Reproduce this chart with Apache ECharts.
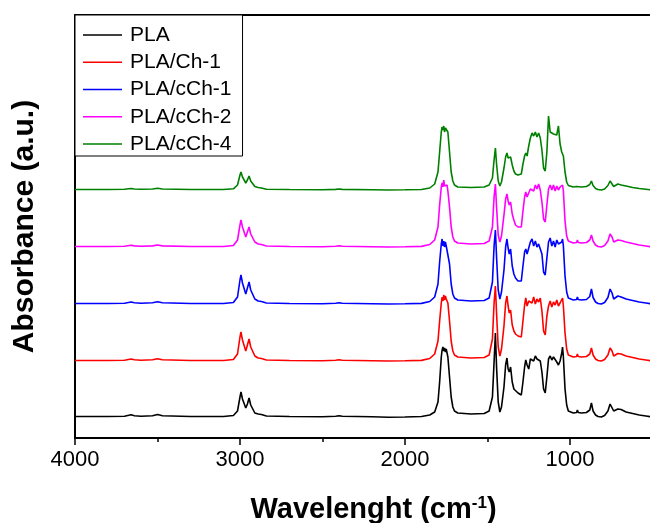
<!DOCTYPE html>
<html>
<head>
<meta charset="utf-8">
<script src="https://cdn.jsdelivr.net/npm/echarts@6/dist/echarts.min.js"></script>
<style>
  html, body { margin: 0; padding: 0; background: #fff; }
  #chart { width: 650px; height: 523px; }
</style>
</head>
<body>
<div id="chart"></div>
<script>
// FTIR spectra, stacked with a vertical offset per sample

var seriesNames = ['PLA', 'PLA/Ch-1', 'PLA/cCh-1', 'PLA/cCh-2', 'PLA/cCh-4'];
var seriesColors = ['#000000', '#ff0000', '#0000ff', '#ff00ff', '#008000'];
var baselineOffsets = [21, 77, 134, 191, 248];

var majorTicks = [1000, 2000, 3000, 4000];
var minorTicks = [1500, 2500, 3500];

// wavenumber (cm-1), descending
var wavenumbers = [
  4000, 3800, 3700, 3660, 3640, 3600, 3530, 3500, 3470, 3300,
  3100, 3040, 3015, 3000, 2994, 2985, 2965, 2955, 2945, 2935, 2910, 2890, 2880, 2870, 2840,
  2700, 2500, 2420, 2400, 2380, 2200, 2100, 2000, 1900, 1850,
  1820, 1800, 1790, 1780, 1775, 1770, 1765, 1760, 1755, 1750, 1745, 1740, 1730, 1720, 1710, 1700, 1680,
  1600, 1520, 1490, 1470, 1460, 1452, 1445, 1435, 1425, 1415, 1400,
  1390, 1382, 1375, 1368, 1360, 1350, 1340, 1330, 1315, 1305, 1295, 1285, 1275, 1268, 1260, 1250, 1240,
  1230, 1220, 1210, 1200, 1190, 1180, 1170, 1160, 1150, 1140, 1130, 1120, 1110, 1100, 1090, 1080, 1070, 1060, 1050, 1045, 1040,
  1030, 1020, 1010, 1000, 980, 960, 955, 950, 930, 900, 880, 870, 860, 845, 830, 810, 790, 770, 757, 745, 735, 725, 710, 700, 690, 660, 620, 580, 540, 500, 460, 420, 400
];

var absPLA = [
  0.5, 0.5, 0.8, 2.2, 1.2, 0.8, 1.2, 2.5, 1.2, 0.5,
  0.5, 1.5, 6, 20, 25, 18, 9, 13, 19, 12, 4, 3, 4, 2.5, 1,
  0.5, 0.3, 0.8, 1.3, 0.8, 0.3, -0.2, 0, 0.5, 2,
  5, 15, 35, 60, 67, 70, 66, 69, 65, 68, 64, 60, 40, 20, 10, 6, 4,
  3, 3.5, 6, 20, 55, 84, 50, 15, 5, 10, 30,
  52, 59, 48, 45, 50, 35, 28, 27, 24, 26, 22, 35, 50, 57, 52, 48, 58,
  60, 56, 61, 58, 60, 56, 45, 28, 24, 40, 58, 61, 57, 60, 58, 55, 52, 56, 64, 70, 60,
  28, 12, 6, 4, 4, 4.5, 7, 4.5, 4, 4.5, 7, 14, 6, 2, 0.5, 0, 1.5, 6, 13, 11, 6, 5, 8, 8.5, 7.5, 5, 3.5, 2, 1, 0, 0, 0, 0
];

var absCh1 = [
  0.5, 0.5, 0.8, 2, 1.2, 0.8, 1.2, 2.3, 1.2, 0.5,
  0.5, 1.5, 7, 24, 29, 21, 10, 16, 22, 14, 5, 3, 4.5, 2.5, 1,
  0.5, 0.3, 0.8, 1.2, 0.8, 0.3, 0, 0.2, 0.6, 2.5,
  7, 20, 40, 58, 64, 60, 66, 61, 65, 62, 64, 58, 40, 20, 10, 6, 4,
  3, 3.5, 6, 22, 58, 75, 48, 14, 5, 12, 35,
  58, 65, 55, 48, 51, 36, 30, 27, 25, 26, 24, 40, 56, 63, 55, 60, 62,
  58, 64, 57, 62, 59, 63, 50, 30, 26, 45, 55, 60, 54, 59, 56, 61, 55, 58, 60, 63, 55,
  28, 12, 6, 4, 4, 4.5, 7, 4.5, 4, 4.5, 7, 13, 6, 2, 0.5, 0, 1.5, 6, 13, 10, 5, 5, 7.5, 8, 7, 5, 3.5, 2, 1, 0, 0, 0, 0
];

var absCCh1 = [
  0.5, 0.5, 0.8, 2, 1.2, 0.8, 1.2, 2.2, 1.2, 0.5,
  0.5, 1.5, 7, 24, 29, 21, 10, 16, 22, 14, 5, 3, 4.5, 2.5, 1,
  0.5, 0.3, 0.8, 1.2, 0.8, 0.3, 0, 0.2, 0.6, 2.5,
  7, 20, 42, 60, 65, 58, 63, 57, 62, 58, 60, 56, 40, 20, 10, 6, 4,
  3, 3.5, 6, 22, 58, 74, 47, 14, 5, 12, 34,
  57, 65, 56, 50, 55, 38, 30, 26, 23, 25, 23, 38, 52, 55, 50, 56, 62,
  65, 58, 63, 57, 60, 62, 50, 32, 29, 46, 62, 66, 58, 63, 57, 64, 60, 58, 62, 65, 58,
  28, 12, 6, 4, 4, 4.5, 7, 4.5, 4, 4.5, 7.5, 15, 6.5, 2, 0.5, 0, 1.5, 6.5, 15, 11, 5, 5, 8, 8, 7, 5, 3.5, 2, 1, 0, 0, 0, 0
];

var absCCh2 = [
  0.5, 0.5, 0.8, 1.8, 1.1, 0.8, 1.1, 2, 1.1, 0.5,
  0.5, 1.5, 7, 22, 27, 20, 10, 15, 20, 13, 5, 3, 4, 2.5, 1,
  0.5, 0.3, 0.8, 1.2, 0.8, 0.3, 0, 0.2, 0.6, 2.5,
  7, 20, 42, 60, 64, 60, 67, 61, 63, 60, 62, 56, 40, 20, 10, 6, 4,
  3, 3.5, 6, 20, 50, 63, 40, 12, 5, 11, 32,
  48, 53, 46, 42, 45, 33, 27, 22, 20, 21, 20, 36, 50, 55, 50, 54, 58,
  60, 56, 62, 58, 63, 57, 45, 28, 25, 42, 58, 62, 57, 62, 56, 61, 57, 60, 58, 62, 56,
  26, 11, 6, 4, 4, 4.5, 7, 4.5, 4, 4.5, 7, 12, 6, 2, 0.5, 0, 1.5, 6, 13, 10, 5, 5, 7, 7.5, 6.5, 5, 3.5, 2, 1, 0, 0, 0, 0
];

var absCCh4 = [
  0.5, 0.5, 0.8, 1.5, 1, 0.8, 1, 1.8, 1, 0.5,
  0.5, 1.2, 5, 15, 18, 13, 7, 10, 14, 9, 3.5, 2.5, 3, 2, 0.8,
  0.5, 0.3, 0.6, 1, 0.6, 0.3, 0, 0.2, 0.5, 2,
  6, 18, 38, 58, 63, 60, 64, 58, 62, 60, 64, 58, 38, 18, 9, 5, 3,
  2.5, 3, 5, 12, 30, 42, 26, 9, 4, 8, 22,
  33, 37, 32, 30, 33, 25, 19, 16, 15, 16, 16, 26, 34, 37, 34, 44, 52,
  57, 54, 58, 53, 57, 52, 40, 22, 19, 38, 74, 58, 60, 56, 58, 55, 64, 46, 38, 39, 34,
  18, 8, 4.5, 3, 3, 3.5, 5, 3.5, 3, 3.5, 5.5, 9, 4.5, 1.5, 0.5, 0, 1, 4.5, 9, 7, 3.5, 4, 6, 6, 5, 4, 2.5, 1.5, 0.8, 0, 0, 0, 0
];

var spectra = [absPLA, absCh1, absCCh1, absCCh2, absCCh4];

var FONT = '"Liberation Sans", Arial, sans-serif';

var chart = echarts.init(document.getElementById('chart'), null, { renderer: 'canvas' });

var series = [];
for (var s = 0; s < spectra.length; s++) {
  var pts = [];
  for (var i = 0; i < wavenumbers.length; i++) {
    pts.push([wavenumbers[i], baselineOffsets[s] + spectra[s][i]]);
  }
  series.push({
    name: seriesNames[s],
    type: 'line',
    xAxisIndex: 0,
    symbol: 'none',
    data: pts,
    color: seriesColors[s],
    lineStyle: { width: 1.6, color: seriesColors[s] }
  });
}

// the plot runs off the right edge of the picture (axis is cut near 515 cm-1)
var X_MIN = 515, X_MAX = 4000;

var option = {
  animation: false,
  backgroundColor: '#fff',
  grid: { left: 75, top: 15, right: 0, bottom: 85, show: false, outerBoundsMode: 'none' },
  legend: {
    data: seriesNames,
    orient: 'vertical',
    left: 75, top: 15,
    padding: [8, 11, 0, 8],
    itemGap: 3.25,
    icon: 'rect',
    itemWidth: 39, itemHeight: 1.5,
    borderColor: '#000', borderWidth: 1,
    backgroundColor: '#fff',
    textStyle: { fontFamily: FONT, fontSize: 21, color: '#000', lineHeight: 24, padding: [0, 0, 0, 3] }
  },
  xAxis: [{
    type: 'value',
    inverse: true,
    min: X_MIN, max: X_MAX,
    position: 'bottom',
    axisLine: { onZero: false, lineStyle: { color: '#000', width: 2 } },
    axisTick: { customValues: majorTicks, length: 7, lineStyle: { color: '#000', width: 1.5 } },
    axisLabel: {
      customValues: majorTicks, margin: 11, fontFamily: FONT, fontSize: 22, color: '#000',
      formatter: function (v) { return String(v); }
    },
    splitLine: { show: false },
    name: '{t|Wavelenght (cm}{s|-1}{t|)}',
    nameLocation: 'middle',
    nameGap: 57,
    nameTextStyle: {
      padding: [0, 0, 0, 22],
      rich: {
        t: { fontFamily: FONT, fontSize: 29, fontWeight: 'bold', color: '#000' },
        s: { fontFamily: FONT, fontSize: 17, fontWeight: 'bold', color: '#000', verticalAlign: 'top' }
      }
    }
  }, {
    // minor ticks
    type: 'value',
    inverse: true,
    min: X_MIN, max: X_MAX,
    position: 'bottom',
    offset: 0,
    axisLine: { show: false, onZero: false },
    axisTick: { customValues: minorTicks, length: 4, lineStyle: { color: '#000', width: 1.5 } },
    axisLabel: { show: false },
    splitLine: { show: false }
  }, {
    // top frame line
    type: 'value',
    inverse: true,
    min: X_MIN, max: X_MAX,
    position: 'top',
    axisLine: { show: true, onZero: false, lineStyle: { color: '#000', width: 2 } },
    axisTick: { show: false },
    axisLabel: { show: false },
    splitLine: { show: false }
  }],
  yAxis: {
    type: 'value',
    min: 0, max: 423,
    axisLine: { show: true, lineStyle: { color: '#000', width: 2 } },
    axisTick: { show: false },
    axisLabel: { show: false },
    splitLine: { show: false },
    name: 'Absorbance (a.u.)',
    nameLocation: 'middle',
    nameGap: 35,
    nameTextStyle: { fontFamily: FONT, fontSize: 30, fontWeight: 'bold', color: '#000' }
  },
  series: series
};

chart.setOption(option);
</script>
</body>
</html>
